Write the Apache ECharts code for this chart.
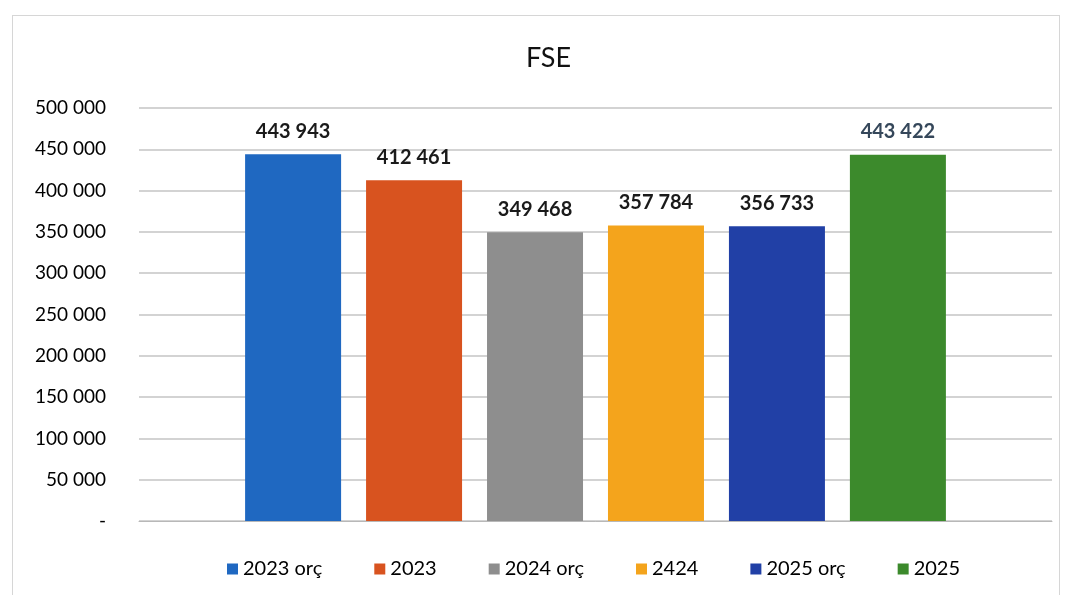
<div id="frame" style="position:absolute;left:12px;top:15px;width:1048px;height:582px;border:1px solid #d6d6d6;box-sizing:border-box"></div>
<div id="main" style="position:absolute;left:0;top:0;width:1067px;height:595px"></div>
<script src="https://cdn.jsdelivr.net/npm/echarts@6/dist/echarts.min.js"></script>
<script>
  var names = ['2023 orç', '2023', '2024 orç', '2424', '2025 orç', '2025'];
  var values = [443943, 412461, 349468, 357784, 356733, 443422];
  var colors = ['#1f68c1', '#d8531f', '#8e8e8e', '#f4a41c', '#2140a6', '#3c8a2c'];
  var labelColors = ['#1a1a1a', '#1a1a1a', '#1a1a1a', '#1a1a1a', '#1a1a1a', '#35475a'];

  function fmt(v) {
    if (v === 0) return '-';
    return String(v).replace(/\B(?=(\d{3})+(?!\d))/g, ' ');
  }

  var chartDom = document.getElementById('main');
  var myChart = echarts.init(chartDom);
  var font = 'Lato, "Open Sans", sans-serif';

  var option = {
    animation: false,
    title: {
      text: 'FSE',
      left: 521,
      top: 40,
      textStyle: { fontFamily: font, fontSize: 27, fontWeight: 'normal', color: '#111' }
    },
    grid: { left: 139, right: 15, top: 108, bottom: 74 },
    legend: {
      top: 554,
      left: 222,
      itemWidth: 11,
      itemHeight: 11,
      itemGap: 52,
      icon: 'rect',
      textStyle: { fontFamily: font, fontSize: 20, color: '#000' },
      data: names
    },
    xAxis: {
      type: 'category',
      data: [''],
      axisTick: { show: false },
      axisLabel: { show: false },
      axisLine: { lineStyle: { color: '#b8b8b8' } }
    },
    yAxis: {
      type: 'value',
      min: 0,
      max: 500000,
      interval: 50000,
      axisLabel: {
        formatter: fmt,
        margin: 33,
        fontFamily: font,
        fontSize: 19,
        color: '#000'
      },
      splitLine: { lineStyle: { color: '#c4c4c4', width: 1.5 } }
    },
    series: names.map(function (n, i) {
      return {
        name: n,
        type: 'bar',
        data: [values[i]],
        barWidth: 96,
        barGap: '26%',
        itemStyle: { color: colors[i] },
        label: {
          show: true,
          position: 'top',
          distance: 13,
          formatter: function (p) { return fmt(p.value); },
          fontFamily: font,
          fontSize: 20,
          fontWeight: 'bold',
          color: labelColors[i]
        }
      };
    })
  };

  myChart.setOption(option);
</script>
